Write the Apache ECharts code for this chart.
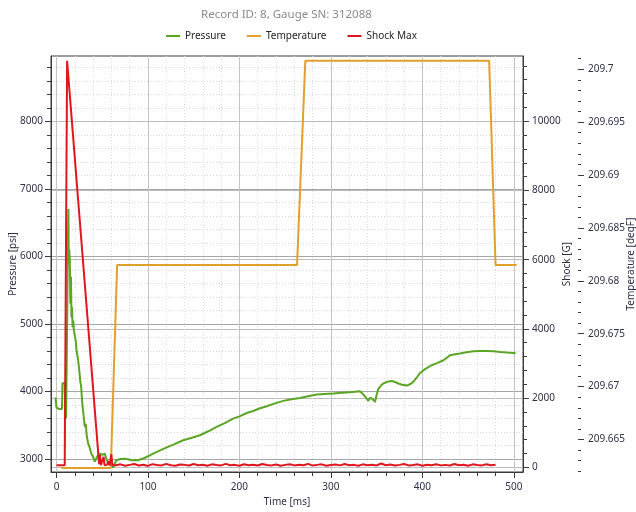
<!DOCTYPE html>
<html>
<head>
<meta charset="utf-8">
<script src="https://cdn.jsdelivr.net/npm/echarts@6/dist/echarts.min.js"></script>
<style>
  html, body { margin: 0; padding: 0; background: #ffffff; }
  #chart { width: 636px; height: 512px; }
</style>
</head>
<body>
<div id="chart"></div>
<script>
// ---- Record 8 / gauge 312088 ----
const chartTitle = 'Record ID: 8, Gauge SN: 312088';

// Pressure trace [psi] against time [ms]
const pressureTime = [
  -1, 0, 1, 3, 6, 6.5, 9, 9.3, 10.5, 11.5, 12.5, 13, 13.5, 14, 14.6, 15.2, 15.8, 16.4, 17, 17.6,
  18.3, 19, 20, 21, 22, 23.7, 25, 26, 27, 28, 29, 30, 31, 32, 33, 34.6, 36, 38, 40, 42,
  43.8, 45, 47.4, 50, 52.8, 54.5, 56.5, 58, 60, 62, 63.5, 65.6, 70, 74.7, 78, 82, 86, 89, 94.7, 100,
  105.7, 112, 120, 129, 138.5, 147, 156.8, 166, 175, 184, 193, 200, 208, 215, 221.7, 229.8, 238, 248, 257, 266,
  275, 284.5, 293, 302.6, 312, 321, 331.8, 335, 337, 339, 341, 343, 344.6, 346, 348.2, 350, 352, 355, 357.3, 362,
  366.5, 370, 373.7, 378, 383, 387, 390, 394, 397.5, 403, 410, 416, 423, 427, 430, 436, 441, 448, 455.8, 463,
  470.5, 478, 485, 493, 502
];
const pressureValues = [
  3910, 3760, 3745, 3740, 3740, 4120, 4126, 3900, 3600, 4800, 6200, 6700, 5900, 6100, 5920, 5300, 5700, 5100, 5250, 4950,
  5050, 4900, 4830, 4750, 4600, 4460, 4300, 4150, 4067, 3850, 3720, 3600, 3474, 3520, 3350, 3230, 3180, 3080, 3030, 2960,
  2980, 3050, 3080, 3060, 3080, 3000, 2936, 2950, 2907, 2872, 2930, 2980, 3000, 3005, 2995, 2980, 2985, 2980, 3006, 3040,
  3080, 3120, 3169, 3220, 3277, 3310, 3351, 3410, 3474, 3530, 3598, 3630, 3681, 3710, 3747, 3781, 3820, 3860, 3885, 3904,
  3930, 3954, 3962, 3969, 3980, 3988, 4003, 3960, 3929, 3900, 3860, 3910, 3929, 3880, 3844, 3950, 4043, 4090, 4117, 4145,
  4156, 4140, 4117, 4100, 4087, 4110, 4141, 4210, 4274, 4330, 4388, 4420, 4462, 4500, 4536, 4550, 4561, 4580, 4596, 4600,
  4600, 4596, 4585, 4575, 4566
];

// Temperature trace [degF]
const temperatureTime = [5.5, 59.4, 66.3, 263, 272, 473, 480, 503];
const temperatureValues = [209.6623, 209.6623, 209.6815, 209.6815, 209.7008, 209.7008, 209.6815, 209.6815];

// Shock max trace [G]
const shockTime = [
  0, 9, 9.4, 11.6, 46.6, 47.5, 48.5, 50, 51.5, 52.5, 55, 57, 58, 60, 61, 63,
  65, 70, 75, 80, 85, 90, 95, 100, 105, 110, 115, 120, 125, 130, 135, 140, 145, 150, 155, 160,
  165, 170, 175, 180, 185, 190, 195, 200, 205, 210, 215, 220, 225, 230, 235, 240, 245, 250, 255, 260,
  265, 270, 275, 280, 285, 290, 295, 300, 305, 310, 315, 320, 325, 330, 335, 340, 345, 350, 355, 360,
  365, 370, 375, 380, 385, 390, 395, 400, 405, 410, 415, 420, 425, 430, 435, 440, 445, 450, 455, 460,
  465, 470, 475, 480
];
const shockValues = [
  58, 58, 60, 11746, 87, 350, 60, 80, 300, 60, 70, 180, 50, 380, 60, 90,
  60, 85, 45, 70, 95, 50, 75, 40, 90, 65, 55, 100, 60, 45, 80, 70, 50, 95, 60, 75,
  45, 85, 65, 55, 100, 60, 70, 45, 90, 60, 75, 50, 95, 65, 55, 80, 45, 70, 90, 55,
  75, 60, 100, 50, 70, 85, 45, 65, 80, 55, 95, 60, 70, 45, 85, 60, 75, 55, 110, 60,
  80, 50, 70, 95, 55, 65, 85, 45, 75, 60, 90, 55, 70, 50, 95, 60, 75, 45, 85, 65,
  55, 90, 60, 70
];

// Axis ranges and labelled ticks
const timeRange = [-6, 510];
const timeTicks = [0, 100, 200, 300, 400, 500];
const pressureRange = [2807, 8967];
const pressureTicks = [3000, 4000, 5000, 6000, 7000, 8000];
const shockRange = [-136, 11885];
const shockTicks = [0, 2000, 4000, 6000, 8000, 10000];
const temperatureRange = [209.66193, 209.70125];
const temperatureTicks = [209.665, 209.67, 209.675, 209.68, 209.685, 209.69, 209.695, 209.7];

// Sub-divisions between labelled ticks
function minorSteps(range, step, majors, decimals) {
  const f = Math.pow(10, decimals);
  const out = [];
  const start = Math.ceil(range[0] / step - 1e-9);
  const end = Math.floor(range[1] / step + 1e-9);
  for (let i = start; i <= end; i++) {
    const v = Math.round(i * step * f) / f;
    if (v <= range[0] || v >= range[1]) continue;
    if (majors.some(m => Math.abs(m - v) < step / 10)) continue;
    out.push(v);
  }
  return out;
}
const timeMinor = minorSteps(timeRange, 20, timeTicks, 0);
const pressureMinor = minorSteps(pressureRange, 200, pressureTicks, 0);
const shockMinor = minorSteps(shockRange, 400, shockTicks, 0);
const temperatureMinor = minorSteps(temperatureRange, 0.001, temperatureTicks, 3);

const zip = (xs, ys) => xs.map((x, i) => [x, ys[i]]);

const FONT = '"Noto Sans", "Open Sans", sans-serif';
const LABEL_COLOR = '#2f3049';
const AXIS_COLOR = '#3a3a3a';
const labelStyle = { color: LABEL_COLOR, fontFamily: FONT, fontSize: 10 };
const nameStyle = { color: LABEL_COLOR, fontFamily: FONT, fontSize: 10 };

function majorAxis(opts) {
  return Object.assign({
    type: 'value',
    axisLine: { show: true, onZero: false, lineStyle: { color: AXIS_COLOR, width: 1 } },
    axisTick: { show: true, inside: false, length: 6, customValues: opts.ticks, lineStyle: { color: AXIS_COLOR } },
    axisLabel: Object.assign({ customValues: opts.ticks, margin: opts.margin, formatter: opts.fmt }, labelStyle),
    splitLine: { show: !!opts.grid, lineStyle: { color: opts.grid || '#aaa', width: 1 } },
    nameLocation: 'middle',
    nameMoveOverlap: false,
    nameTextStyle: nameStyle,
    silent: true
  }, opts.extra);
}
function minorAxis(opts) {
  return Object.assign({
    type: 'value',
    axisLine: { show: false, onZero: false },
    axisTick: { show: true, inside: false, length: opts.len || 3, customValues: opts.ticks, lineStyle: { color: AXIS_COLOR } },
    axisLabel: { show: false },
    splitLine: { show: !!opts.grid, lineStyle: { color: opts.grid || '#ddd', width: 1, type: [1, 2] } },
    silent: true
  }, opts.extra);
}

const numFmt = v => String(Math.round(v));
const tempFmt = v => String(parseFloat(Number(v).toFixed(3)));

const option = {
  animation: false,
  backgroundColor: '#ffffff',
  title: {
    text: chartTitle,
    left: 201,
    top: 9,
    padding: 0,
    textStyle: { color: '#8a8a8a', fontFamily: FONT, fontSize: 11.5, fontWeight: 'normal' }
  },
  legend: {
    data: ['Pressure', 'Temperature', 'Shock Max'],
    left: 166,
    top: 31,
    padding: 0,
    icon: 'rect',
    itemWidth: 14,
    itemHeight: 2,
    itemGap: 21,
    textStyle: { color: '#222222', fontFamily: FONT, fontSize: 10 }
  },
  grid: {
    left: 51, right: 113, top: 56, bottom: 40,
    containLabel: false, outerBoundsMode: 'none',
    show: true, borderColor: AXIS_COLOR, borderWidth: 1, backgroundColor: '#ffffff'
  },
  xAxis: [
    minorAxis({ ticks: timeMinor, len: 4, grid: '#dcdcdc',
      extra: { min: timeRange[0], max: timeRange[1], position: 'bottom' } }),
    majorAxis({ ticks: timeTicks, margin: 10, fmt: numFmt, grid: '#c4c4c4',
      extra: { min: timeRange[0], max: timeRange[1], position: 'bottom', name: 'Time [ms]', nameGap: 25 } })
  ],
  yAxis: [
    majorAxis({ ticks: pressureTicks, margin: 8, fmt: numFmt, grid: '#a6a6a6',
      extra: { min: pressureRange[0], max: pressureRange[1], position: 'left', name: 'Pressure [psi]', nameGap: 33 } }),
    minorAxis({ ticks: pressureMinor, len: 4, grid: '#d6d6d6',
      extra: { min: pressureRange[0], max: pressureRange[1], position: 'left' } }),
    majorAxis({ ticks: shockTicks, margin: 9, fmt: numFmt, grid: '#bdbdbd',
      extra: { min: shockRange[0], max: shockRange[1], position: 'right', name: 'Shock [G]', nameGap: 39 } }),
    minorAxis({ ticks: shockMinor, len: 4,
      extra: { min: shockRange[0], max: shockRange[1], position: 'right' } }),
    majorAxis({ ticks: temperatureTicks, margin: 10, fmt: tempFmt,
      extra: { min: temperatureRange[0], max: temperatureRange[1], position: 'right', offset: 55,
        axisLine: { show: false, onZero: false },
        name: 'Temperature [degF]', nameGap: 48 } }),
    minorAxis({ ticks: temperatureMinor, len: 3,
      extra: { min: temperatureRange[0], max: temperatureRange[1], position: 'right', offset: 55 } })
  ],
  series: [
    {
      name: 'Pressure', type: 'line', xAxisIndex: 1, yAxisIndex: 0,
      data: zip(pressureTime, pressureValues),
      showSymbol: false, symbol: 'none', color: '#5ba524',
      lineStyle: { width: 2, color: '#5ba524' }, z: 3
    },
    {
      name: 'Temperature', type: 'line', xAxisIndex: 1, yAxisIndex: 4,
      data: zip(temperatureTime, temperatureValues),
      showSymbol: false, symbol: 'none', color: '#e19f2c',
      lineStyle: { width: 2, color: '#e19f2c' }, z: 4
    },
    {
      name: 'Shock Max', type: 'line', xAxisIndex: 1, yAxisIndex: 2,
      data: zip(shockTime, shockValues),
      showSymbol: false, symbol: 'none', color: '#e0161e',
      lineStyle: { width: 2, color: '#e0161e' }, z: 5
    }
  ]
};

const chart = echarts.init(document.getElementById('chart'), null, { renderer: 'canvas' });
chart.setOption(option);
</script>
</body>
</html>
